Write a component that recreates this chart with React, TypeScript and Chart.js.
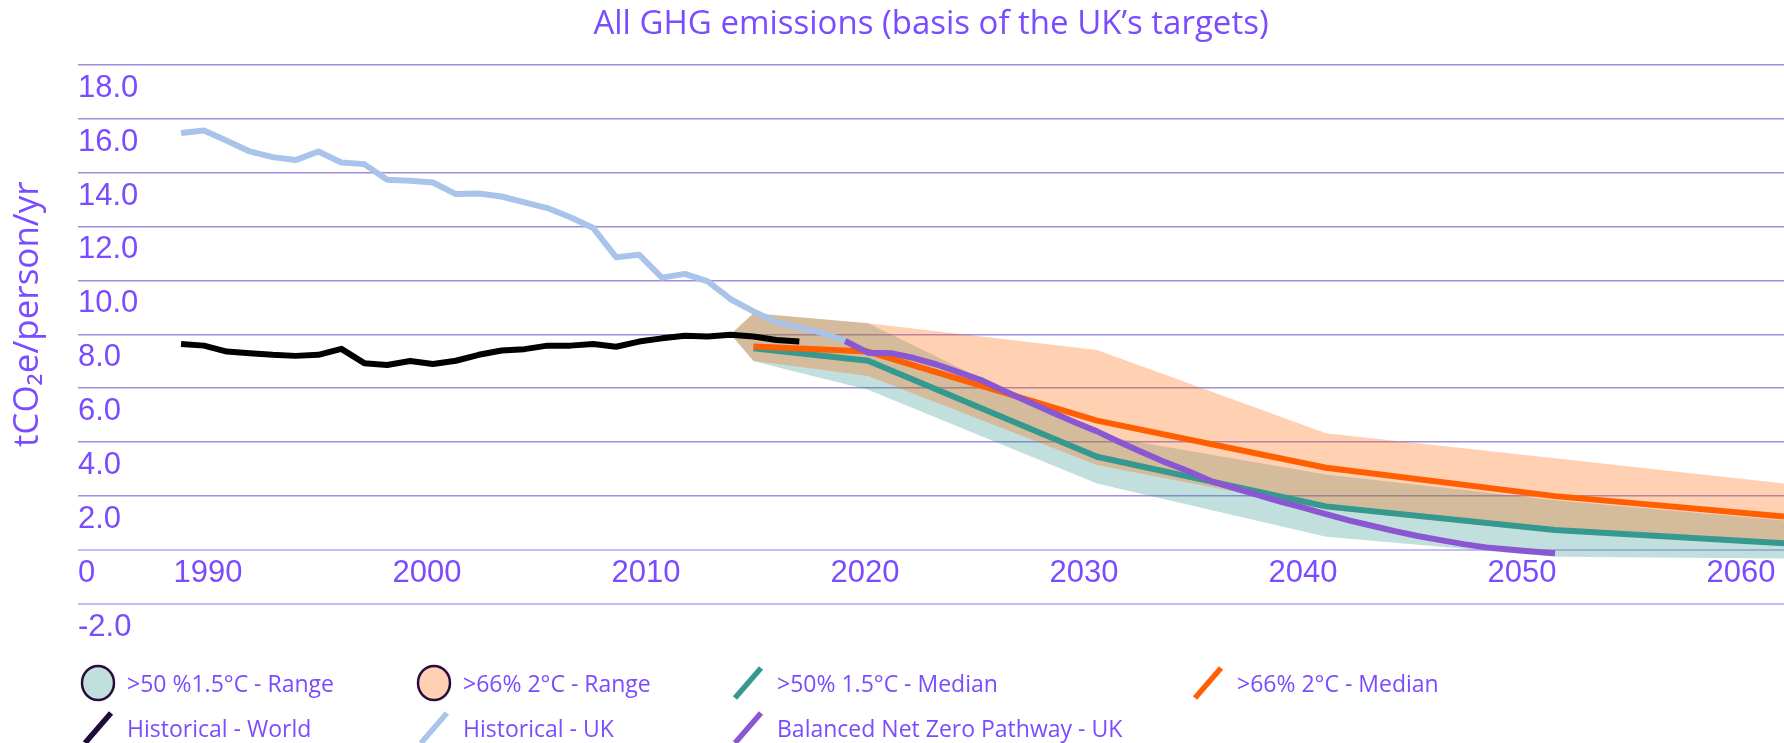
import React, { useEffect, useRef } from 'react';
import { Chart, registerables } from 'chart.js';

Chart.register(...registerables);

const WIDTH = 1784;
const HEIGHT = 743;

const TITLE = 'All GHG emissions (basis of the UK’s targets)';
const Y_TITLE = 'tCO₂e/person/yr';

const Y_TICK_LABELS = ['-2.0', '0', '2.0', '4.0', '6.0', '8.0', '10.0', '12.0', '14.0', '16.0', '18.0'];
const X_TICK_LABELS = ['1990', '2000', '2010', '2020', '2030', '2040', '2050', '2060'];

// Historical series (annual, from 1990)
const HIST_FIRST_YEAR = 1990;
const HISTORICAL_UK = [
  15.46, 15.56, 15.18, 14.78, 14.57, 14.46, 14.78, 14.37, 14.31, 13.73,
  13.69, 13.63, 13.2, 13.22, 13.11, 12.89, 12.68, 12.34, 11.94, 10.86,
  10.95, 10.1, 10.24, 9.96, 9.3, 8.85, 8.45, 8.25, 8.05, 7.75,
];
const HISTORICAL_WORLD = [
  7.64, 7.58, 7.36, 7.3, 7.24, 7.2, 7.24, 7.46, 6.93, 6.86,
  7.01, 6.9, 7.02, 7.24, 7.4, 7.45, 7.58, 7.58, 7.64, 7.54,
  7.73, 7.85, 7.95, 7.92, 7.98, 7.92, 7.79, 7.73,
];

// Balanced Net Zero Pathway - UK (annual, from 2019)
const PATHWAY_FIRST_YEAR = 2019;
const BALANCED_NET_ZERO_UK = [
  7.75, 7.32, 7.3, 7.12, 6.88, 6.58, 6.28, 5.88, 5.5, 5.12,
  4.75, 4.4, 4.0, 3.62, 3.25, 2.92, 2.55, 2.3, 2.05, 1.8,
  1.57, 1.33, 1.1, 0.9, 0.7, 0.52, 0.37, 0.22, 0.1, 0.02,
  -0.05, -0.12,
];

// Scenario medians
const MEDIAN_YEARS = [2015, 2020, 2030, 2040, 2050, 2060];
const MEDIAN_2C = [7.55, 7.36, 4.8, 3.05, 2.0, 1.24];
const MEDIAN_15C = [7.48, 7.02, 3.46, 1.62, 0.74, 0.25];

// Scenario ranges
const RANGE_YEARS = [2014, 2015, 2020, 2030, 2040, 2050, 2060];
const RANGE_2C_HIGH = [8.0, 8.78, 8.41, 7.42, 4.33, 3.4, 2.47];
const RANGE_2C_LOW = [8.0, 7.02, 6.45, 3.15, 1.5, 0.65, 0.2];
const RANGE_15C_HIGH = [8.0, 8.78, 8.41, 4.27, 2.8, 1.85, 1.1];
const RANGE_15C_LOW = [8.0, 7.0, 5.94, 2.47, 0.49, -0.25, -0.31];

const TEXT_PURPLE = '#7a4bff';
const LIGHT_BLUE = '#a9c4ea';
const TEAL = '#35998f';
const ORANGE = '#ff5f00';
const PATH_PURPLE = '#8a56d1';
const BLACK = '#000000';
const WORLD_LEGEND = '#1e0b3b';
const TEAL_FILL = 'rgba(51,153,143,0.3)';
const ORANGE_FILL = 'rgba(255,100,0,0.3)';

const TICK_FONT = "'Liberation Sans', Arial, sans-serif";
const TEXT_FONT = "'Open Sans', 'Noto Sans', sans-serif";

const LEGEND_ITEMS = [
  { label: '>50 %1.5°C - Range', kind: 'circle', color: TEAL_FILL },
  { label: '>66% 2°C - Range', kind: 'circle', color: ORANGE_FILL },
  { label: '>50% 1.5°C - Median', kind: 'slash', color: TEAL },
  { label: '>66% 2°C - Median', kind: 'slash', color: ORANGE },
  { label: 'Historical - World', kind: 'slash', color: WORLD_LEGEND },
  { label: 'Historical - UK', kind: 'slash', color: LIGHT_BLUE },
  { label: 'Balanced Net Zero Pathway - UK', kind: 'slash', color: PATH_PURPLE },
];

function annual(firstYear: number, values: number[]) {
  return values.map((y, i) => ({ x: firstYear + i, y }));
}
function paired(years: number[], values: number[]) {
  return values.map((y, i) => ({ x: years[i], y }));
}

const yTitlePlugin = {
  id: 'yTitle',
  afterDraw(chart: any) {
    const { ctx, chartArea } = chart;
    ctx.save();
    ctx.translate(chartArea.left - 50, (chartArea.top + chartArea.bottom) / 2 - 20);
    ctx.rotate(-Math.PI / 2);
    ctx.font = `35px ${TEXT_FONT}`;
    ctx.fillStyle = TEXT_PURPLE;
    ctx.textAlign = 'center';
    ctx.textBaseline = 'middle';
    ctx.fillText(Y_TITLE, 0, 0);
    ctx.restore();
  },
};

const legendPlugin = {
  id: 'gridLegend',
  afterDraw(chart: any) {
    const { ctx } = chart;
    const cols = [98, 434, 748, 1208];
    const rows = [685, 730];
    ctx.save();
    ctx.font = `23px ${TEXT_FONT}`;
    ctx.textBaseline = 'middle';
    ctx.textAlign = 'left';
    LEGEND_ITEMS.forEach((item, i) => {
      const cx = cols[i % 4];
      const cy = rows[Math.floor(i / 4)];
      const my = cy - 2;
      if (item.kind === 'circle') {
        ctx.beginPath();
        ctx.ellipse(cx, my, 16, 17, 0, 0, Math.PI * 2);
        ctx.fillStyle = '#ffffff';
        ctx.fill();
        ctx.fillStyle = item.color;
        ctx.fill();
        ctx.lineWidth = 2.5;
        ctx.strokeStyle = '#2a0b3f';
        ctx.stroke();
      } else {
        ctx.beginPath();
        ctx.moveTo(cx - 13, my + 15);
        ctx.lineTo(cx + 13, my - 15);
        ctx.lineWidth = 5.5;
        ctx.lineCap = 'butt';
        ctx.strokeStyle = item.color;
        ctx.stroke();
      }
      ctx.fillStyle = TEXT_PURPLE;
      ctx.fillText(item.label, cx + 29, cy);
    });
    ctx.restore();
  },
};

function lineDs(label: string, data: any[], color: string, order: number) {
  return {
    label,
    data,
    borderColor: color,
    backgroundColor: color,
    borderWidth: 6,
    pointRadius: 0,
    fill: false,
    tension: 0,
    borderJoinStyle: 'round',
    order,
  };
}

function bandDs(label: string, data: any[], fill: any, color: string, order: number) {
  return {
    label,
    data,
    borderWidth: 0,
    borderColor: 'rgba(0,0,0,0)',
    backgroundColor: color,
    pointRadius: 0,
    fill,
    tension: 0,
    order,
  };
}

export default function App() {
  const canvasRef = useRef<HTMLCanvasElement | null>(null);

  useEffect(() => {
    const canvas = canvasRef.current;
    if (!canvas) return;

    const datasets: any[] = [
      lineDs('Balanced Net Zero Pathway - UK', annual(PATHWAY_FIRST_YEAR, BALANCED_NET_ZERO_UK), PATH_PURPLE, 0),
      lineDs('>66% 2°C - Median', paired(MEDIAN_YEARS, MEDIAN_2C), ORANGE, 0),
      lineDs('>50% 1.5°C - Median', paired(MEDIAN_YEARS, MEDIAN_15C), TEAL, 0),
      lineDs('Historical - UK', annual(HIST_FIRST_YEAR, HISTORICAL_UK), LIGHT_BLUE, 0),
      lineDs('Historical - World', annual(HIST_FIRST_YEAR, HISTORICAL_WORLD), BLACK, 0),
      bandDs('>66% 2°C - Range', paired(RANGE_YEARS, RANGE_2C_HIGH), '+1', ORANGE_FILL, 2),
      bandDs('>66% 2°C - Range (low)', paired(RANGE_YEARS, RANGE_2C_LOW), false, ORANGE_FILL, 2),
      bandDs('>50 %1.5°C - Range', paired(RANGE_YEARS, RANGE_15C_HIGH), '+1', TEAL_FILL, 3),
      bandDs('>50 %1.5°C - Range (low)', paired(RANGE_YEARS, RANGE_15C_LOW), false, TEAL_FILL, 3),
    ];

    const chart = new Chart(canvas, {
      type: 'line',
      data: { datasets },
      plugins: [yTitlePlugin, legendPlugin],
      options: {
        responsive: false,
        devicePixelRatio: 1,
        animation: false,
        events: [],
        layout: { padding: { left: 78, right: 0, top: 0, bottom: 139 } },
        plugins: {
          legend: { display: false },
          tooltip: { enabled: false },
          title: {
            display: true,
            text: TITLE,
            color: TEXT_PURPLE,
            fullSize: false,
            font: { family: TEXT_FONT, size: 33, weight: 'normal', lineHeight: 1.2 },
            padding: { top: 5, bottom: 20 },
          },
        },
        scales: {
          x: {
            type: 'linear',
            min: 1985.5,
            max: 2060,
            display: false,
          },
          x2: {
            type: 'linear',
            axis: 'x',
            position: { y: 0 },
            min: 1984.06,
            max: 2061.96,
            grid: { display: false, drawTicks: false },
            border: { display: false },
            afterBuildTicks: (scale: any) => {
              scale.ticks = X_TICK_LABELS.map((l) => ({ value: Number(l) }));
            },
            ticks: {
              autoSkip: false,
              maxRotation: 0,
              padding: 5,
              color: TEXT_PURPLE,
              font: { family: TICK_FONT, size: 31 },
              callback: (_v: any, i: number) => X_TICK_LABELS[i],
            },
          },
          y: {
            type: 'linear',
            position: 'left',
            min: -2,
            max: 18,
            border: { display: false },
            afterBuildTicks: (scale: any) => {
              scale.ticks = Y_TICK_LABELS.map((l) => ({ value: Number(l) }));
            },
            grid: {
              drawTicks: false,
              color: (c: any) => (c.tick && c.tick.value <= 0 ? '#c6bbf4' : '#9d8ee0'),
              lineWidth: (c: any) => (c.tick && c.tick.value <= 0 ? 2 : 1.5),
            },
            ticks: {
              mirror: true,
              padding: 0,
              labelOffset: 23.5,
              autoSkip: false,
              color: TEXT_PURPLE,
              font: { family: TICK_FONT, size: 31 },
              callback: (_v: any, i: number) => Y_TICK_LABELS[i],
            },
          },
        },
      } as any,
    });

    return () => {
      chart.destroy();
    };
  }, []);

  return (
    <div style={{ position: 'fixed', left: 0, top: 0, width: WIDTH, height: HEIGHT, background: '#ffffff' }}>
      <canvas ref={canvasRef} width={WIDTH} height={HEIGHT} style={{ display: 'block', width: WIDTH, height: HEIGHT }} />
    </div>
  );
}
